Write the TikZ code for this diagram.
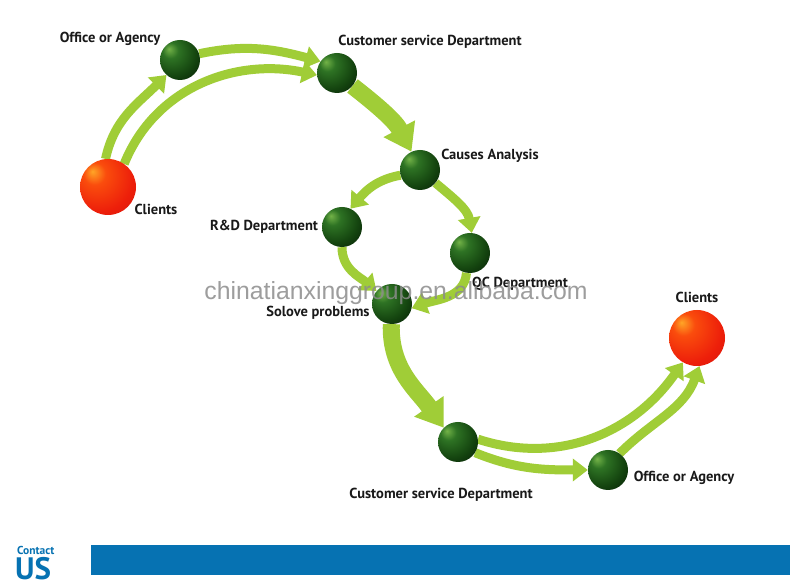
\documentclass[tikz,border=0pt]{standalone}
\usepackage{fontspec}
\setmainfont{PT Sans}
\usetikzlibrary{arrows.meta,backgrounds}
\definecolor{arrowgreen}{RGB}{160,205,55}
\definecolor{barblue}{RGB}{6,114,178}
\definecolor{txt}{RGB}{25,25,25}
\pgfdeclareradialshading{greenball}{\pgfpoint{-14bp}{14bp}}{%
  rgb(0bp)=(0.45,0.70,0.28);
  rgb(10bp)=(0.18,0.45,0.14);
  rgb(28bp)=(0.08,0.27,0.06);
  rgb(44bp)=(0.02,0.11,0.02);
  rgb(70bp)=(0.01,0.05,0.01)}
\pgfdeclareradialshading{redball}{\pgfpoint{-14bp}{14bp}}{%
  rgb(0bp)=(1.0,0.65,0.15);
  rgb(10bp)=(0.98,0.30,0.05);
  rgb(30bp)=(0.93,0.12,0.04);
  rgb(50bp)=(0.80,0.07,0.03);
  rgb(70bp)=(0.65,0.05,0.02)}
\begin{document}
\begin{tikzpicture}[x=1pt,y=1pt,
  gball/.style={circle,inner sep=0pt,minimum size=40pt,shading=greenball},
  rball/.style={circle,inner sep=0pt,minimum size=56pt,shading=redball},
  lbl/.style={font=\bfseries\fontsize{14.5}{16}\selectfont,text=txt,inner sep=0pt},
  thinarrow/.style={draw=arrowgreen,line width=9pt,-{Triangle[width=22pt,length=15pt]}},
  thickarrow/.style={draw=arrowgreen,line width=17pt,-{Triangle[width=34pt,length=26pt]}},
]
\useasboundingbox (0,0) rectangle (790,588);

% spheres
\node[rball] (C1) at (108,401) {};
\node[gball] (O1) at (180,528) {};
\node[gball] (S1) at (337,515) {};
\node[gball] (CA) at (420,418) {};
\node[gball] (RD) at (342,361) {};
\node[gball] (QC) at (470,335) {};
\node[gball] (SP) at (392,284) {};
\node[gball] (S2) at (458,146) {};
\node[gball] (O2) at (608,118) {};
\node[rball] (C2) at (697,250) {};

% connectors
\begin{scope}[on background layer]
\fill[white] (0,0) rectangle (790,588);
\draw[thinarrow] (C1.95) to[out=78,in=225] (O1.228);
\draw[thinarrow] (C1.55) to[out=68,in=168] (S1.186);
\draw[thinarrow] (O1.18) to[out=12,in=165] (S1.145);
\draw[thickarrow] (S1.-40) to[out=-38,in=118] (CA.115);
\draw[thinarrow] (CA.195) to[out=190,in=50] (RD.65);
\draw[thinarrow] (CA.-40) to[out=-40,in=100] (QC.85);
\draw[thinarrow] (RD.-90) to[out=-90,in=140] (SP.140);
\draw[thinarrow] (QC.-100) to[out=-95,in=20] (SP.-12);
\draw[thickarrow] (SP.-92) to[out=-92,in=125] (S2.135);
\draw[thinarrow] (S2.8) to[out=-18,in=235] (C2.240);
\draw[thinarrow] (S2.-32) to[out=-22,in=180] (O2.180);
\draw[thinarrow] (O2.55) to[out=45,in=250] (C2.275);
\end{scope}

% labels
\node[lbl] (lO1) at (110,549) {Office or Agency};
\node[lbl] (lS1) at (430,546) {Customer service Department};
\node[lbl] (lCA) at (490,432) {Causes Analysis};
\node[lbl] (lRD) at (264,361) {R\&D Department};
\node[lbl] (lQC) at (520,304) {QC Department};
\node[lbl] (lSP) at (318,275) {Solove problems};
\node[lbl] (lC1) at (156,379) {Clients};
\node[lbl] (lC2) at (697,291) {Clients};
\node[lbl] (lO2) at (684,110) {Office or Agency};
\node[lbl] (lS2) at (441,93) {Customer service Department};

% watermark
\node[font=\fontspec{Liberation Sans}\fontsize{24.8}{26}\selectfont,text=black!45,opacity=0.85,inner sep=0pt] (wm) at (396,295) {chinatianxinggroup.en.alibaba.com};

% footer
\fill[barblue] (91,13) rectangle (790,43);
\node[font=\bfseries\fontsize{11.5}{12}\selectfont,text=barblue,inner sep=0pt,anchor=west] (contact) at (17,38) {Contact};
\node[font=\bfseries\fontsize{31}{31}\selectfont,text=barblue,inner sep=0pt,anchor=west] (us) at (15,19) {US};
\end{tikzpicture}
\end{document}
